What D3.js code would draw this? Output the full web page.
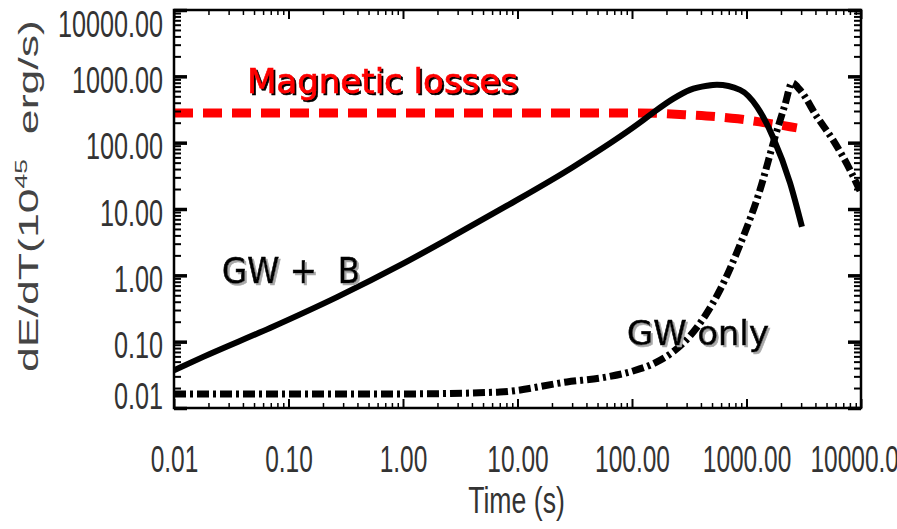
<!DOCTYPE html>
<html>
<head>
<meta charset="utf-8">
<script src="https://cdn.jsdelivr.net/npm/d3@7"></script>
<style>
  body { margin: 0; background: #fff; }
</style>
</head>
<body>
<svg id="chart" width="897" height="529"></svg>
<script>
// values (log-log, time in s, dE/dT in 1e45 erg/s)
const tickVals = [0.01, 0.1, 1, 10, 100, 1000, 10000];

const gwbTime = [0.01, 0.018, 0.069, 0.265, 1.0, 2.57, 8.1, 30.6, 117, 152, 228, 321, 452, 552, 877, 1236, 1700, 2400, 3050];
const gwbLum  = [0.037, 0.059, 0.161, 0.47, 1.5, 3.66, 11.2, 43, 200, 281, 457, 625, 719, 745, 625, 347, 122, 24.8, 5.4];

const magTime = [0.01, 117, 302, 843, 1443, 2400, 2750];
const magLum  = [281, 281, 263, 229, 200, 174, 167];

const gwTime = [0.01, 1, 7, 27, 60.5, 102, 159, 228, 321, 434, 587, 877, 1312, 1775, 2168, 2496, 2931, 4130, 5690, 8010, 10000];
const gwLum  = [0.0163, 0.0163, 0.0174, 0.0247, 0.0294, 0.0361, 0.0478, 0.070, 0.122, 0.244, 0.603, 2.88, 19.4, 122, 372, 795, 625, 245, 110, 39, 17.5];

const svg    = d3.select("#chart"),
      margin = {top: 10, right: 36, bottom: 121, left: 174},
      width  = 897 - margin.left - margin.right,
      height = 529 - margin.top - margin.bottom,
      x      = d3.scaleLog().domain([0.01, 10000]).range([0, width]),
      y      = d3.scaleLog().domain([0.01, 10000]).range([height, 0]),
      g      = svg.append("g").attr("transform", `translate(${margin.left},${margin.top})`);

const minorX = x.ticks().filter(d => !tickVals.includes(d));
const minorY = y.ticks().filter(d => !tickVals.includes(d));

const line = d3.line()
  .x(d => x(d[0]))
  .y(d => y(d[1]))
  .curve(d3.curveMonotoneX);

const defs = svg.append("defs");
defs.append("clipPath").attr("id", "plotclip")
  .append("rect").attr("width", width).attr("height", height);
// drop shadows for the annotations
[["shadowBlack", "#000"], ["shadowGrey", "#a8a8a8"]].forEach(([id, c]) => {
  defs.append("filter").attr("id", id)
    .attr("x", "-5%").attr("y", "-20%").attr("width", "115%").attr("height", "150%")
    .append("feDropShadow")
    .attr("dx", 2).attr("dy", 2).attr("stdDeviation", 0.4)
    .attr("flood-color", c).attr("flood-opacity", 1);
});

const plot = g.append("g").attr("clip-path", "url(#plotclip)");

// magnetic losses
plot.append("path")
  .datum(d3.zip(magTime, magLum))
  .attr("d", line)
  .attr("fill", "none")
  .attr("stroke", "#ff0000")
  .attr("stroke-width", 9)
  .attr("stroke-dasharray", "19 10");

// GW + B
plot.append("path")
  .datum(d3.zip(gwbTime, gwbLum))
  .attr("d", line)
  .attr("fill", "none")
  .attr("stroke", "#000")
  .attr("stroke-width", 6);

// GW only
plot.append("path")
  .datum(d3.zip(gwTime, gwLum))
  .attr("d", line)
  .attr("fill", "none")
  .attr("stroke", "#000")
  .attr("stroke-width", 7)
  .attr("stroke-dasharray", "12 4 3 4");

// tick marks on all four sides, pointing inwards
function ticks(axis, vals, size, sw, tr) {
  const a = g.append("g")
    .attr("transform", tr || null)
    .call(axis.tickValues(vals).tickSizeInner(-size).tickSizeOuter(0).tickFormat(""));
  a.select(".domain").remove();
  a.selectAll("line").attr("stroke", "#000").attr("stroke-width", sw);
}
ticks(d3.axisLeft(y), tickVals, 13, 3.5);
ticks(d3.axisLeft(y), minorY, 7, 2);
ticks(d3.axisRight(y), tickVals, 13, 3.5, `translate(${width},0)`);
ticks(d3.axisRight(y), minorY, 7, 2, `translate(${width},0)`);
ticks(d3.axisBottom(x), tickVals, 9, 2, `translate(0,${height})`);
ticks(d3.axisBottom(x), minorX, 5, 1.5, `translate(0,${height})`);
ticks(d3.axisTop(x), tickVals, 9, 2);
ticks(d3.axisTop(x), minorX, 5, 1.5);

g.append("rect")
  .attr("width", width).attr("height", height)
  .attr("fill", "none").attr("stroke", "#000").attr("stroke-width", 2.5);

// narrow tall tick labels
function squeeze(sel, k) {
  sel.each(function() {
    const l = this.getComputedTextLength();
    this.setAttribute("textLength", l * k);
    this.setAttribute("lengthAdjust", "spacingAndGlyphs");
  });
}

const fmt = d3.format(".2f");

const yl = g.append("g")
  .call(d3.axisLeft(y).tickValues(tickVals).tickSize(0).tickPadding(11).tickFormat(fmt));
yl.select(".domain").remove();
yl.selectAll("text")
  .attr("font-family", "Liberation Sans, Arial, sans-serif")
  .attr("font-size", 36)
  .attr("fill", "#333")
  .attr("dy", null)
  .attr("y", (d, i) => i == 0 ? 0 : (i == tickVals.length - 1 ? 26 : 16));
squeeze(yl.selectAll("text"), 0.7);

const xl = g.append("g")
  .attr("transform", `translate(0,${height})`)
  .call(d3.axisBottom(x).tickValues(tickVals).tickSize(0).tickFormat(fmt));
xl.select(".domain").remove();
xl.selectAll("text")
  .attr("font-family", "Liberation Sans, Arial, sans-serif")
  .attr("font-size", 36)
  .attr("fill", "#333")
  .attr("dy", null)
  .attr("y", 64);
squeeze(xl.selectAll("text"), 0.68);

const xt = g.append("text")
  .attr("x", width / 2 - 1)
  .attr("y", height + 105)
  .attr("text-anchor", "middle")
  .attr("font-family", "Liberation Sans, Arial, sans-serif")
  .attr("font-size", 37)
  .attr("fill", "#333")
  .text("Time (s)");
squeeze(xt, 0.72);

// y axis title, wide glyphs
const yt = svg.append("text")
  .attr("transform", "translate(38,196) rotate(-90)")
  .attr("text-anchor", "middle")
  .attr("font-family", "Liberation Sans, Arial, sans-serif")
  .attr("font-size", 27)
  .attr("fill", "#444")
  .attr("textLength", 352)
  .attr("lengthAdjust", "spacingAndGlyphs");
yt.append("tspan").text("dE/dT(10");
yt.append("tspan").attr("font-size", 16).attr("dy", -11).text("45");
yt.append("tspan").attr("dy", 11).text("\u00a0\u00a0erg/s)");

// annotations
function note(txt, px, py, size, len, fill, shade) {
  svg.append("text")
    .attr("x", px)
    .attr("y", py)
    .attr("font-family", "Comic Sans MS, DejaVu Sans, sans-serif")
    .attr("font-size", size)
    .attr("fill", fill)
    .attr("stroke", fill)
    .attr("stroke-width", 0.6)
    .attr("filter", `url(#${shade})`)
    .attr("textLength", len)
    .attr("lengthAdjust", "spacingAndGlyphs")
    .attr("xml:space", "preserve")
    .text(txt);
}
note("Magnetic losses", 247, 93, 34, 271, "#ff0000", "shadowBlack");
note("GW +  B", 222, 283, 35, 138, "#000", "shadowGrey");
note("GW only", 627, 345, 34, 142, "#000", "shadowGrey");
</script>
</body>
</html>
